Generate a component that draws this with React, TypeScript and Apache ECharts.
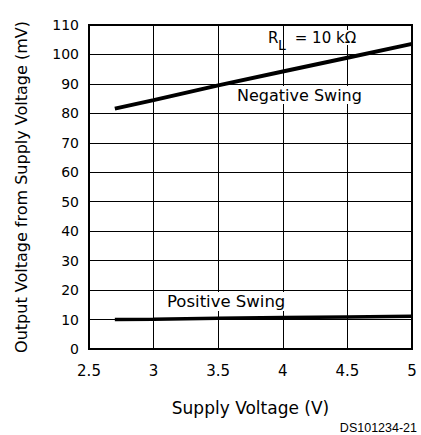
import React, { useEffect, useRef } from "react";
import * as echarts from "echarts";

const supplyVoltage = [2.7, 3.0, 3.5, 4.0, 4.5, 5.0];
const negativeSwing = [81.6, 84.5, 89.5, 94.2, 98.9, 103.6];
const positiveSwing = [10.0, 10.1, 10.4, 10.7, 10.9, 11.1];
const xTicks = [2.5, 3, 3.5, 4, 4.5, 5];
const yTicks = [0, 10, 20, 30, 40, 50, 60, 70, 80, 90, 100, 110];

const FONT = "DejaVu Sans";

export default function App() {
  const ref = useRef<HTMLDivElement>(null);
  useEffect(() => {
    if (!ref.current) return;
    const chart = echarts.init(ref.current, undefined, { renderer: "svg" });
    chart.setOption({
      animation: false,
      backgroundColor: "#fff",
      grid: {
        left: 89,
        right: 9,
        top: 25,
        bottom: 86,
        show: true,
        borderColor: "#000",
        borderWidth: 2,
        z: 3,
      },
      xAxis: {
        type: "value",
        min: xTicks[0],
        max: xTicks[xTicks.length - 1],
        interval: 0.5,
        name: "Supply Voltage (V)",
        nameLocation: "middle",
        nameGap: 50,
        nameTextStyle: { fontFamily: FONT, fontSize: 17, color: "#000" },
        axisLine: { show: true, lineStyle: { color: "#000", width: 2 } },
        axisTick: { show: false },
        axisLabel: { fontFamily: FONT, fontSize: 15, color: "#000", margin: 14 },
        splitLine: { show: true, lineStyle: { color: "#000", width: 1 } },
      },
      yAxis: {
        type: "value",
        min: yTicks[0],
        max: yTicks[yTicks.length - 1],
        interval: 10,
        name: "Output Voltage from Supply Voltage (mV)",
        nameLocation: "middle",
        nameGap: 60,
        nameTextStyle: { fontFamily: FONT, fontSize: 16, color: "#000" },
        axisLine: { show: true, lineStyle: { color: "#000", width: 2 } },
        axisTick: { show: false },
        axisLabel: { fontFamily: FONT, fontSize: 14, color: "#000", margin: 10 },
        splitLine: { show: true, lineStyle: { color: "#000", width: 1 } },
      },
      series: [
        {
          type: "line",
          name: "Negative Swing",
          data: supplyVoltage.map((v, i) => [v, negativeSwing[i]]),
          showSymbol: false,
          symbol: "none",
          lineStyle: { color: "#000", width: 4 },
          z: 5,
        },
        {
          type: "line",
          name: "Positive Swing",
          data: supplyVoltage.map((v, i) => [v, positiveSwing[i]]),
          showSymbol: false,
          symbol: "none",
          lineStyle: { color: "#000", width: 3.5 },
          z: 5,
        },
      ],
      graphic: [
        {
          type: "text",
          x: 268,
          y: 30,
          z: 10,
          style: {
            text: "R",
            fontFamily: FONT,
            fontSize: 15,
            fill: "#000",
            backgroundColor: "#fff",
          },
        },
        {
          type: "text",
          x: 278,
          y: 38,
          z: 11,
          style: {
            text: "L",
            fontFamily: FONT,
            fontSize: 14,
            fill: "#000",
          },
        },
        {
          type: "text",
          x: 290,
          y: 30,
          z: 10,
          style: {
            text: " = 10 kΩ",
            fontFamily: FONT,
            fontSize: 15,
            fill: "#000",
            backgroundColor: "#fff",
          },
        },
        {
          type: "text",
          x: 236,
          y: 86,
          z: 10,
          style: {
            text: "Negative Swing",
            fontFamily: FONT,
            fontSize: 16,
            fill: "#000",
            backgroundColor: "#fff",
            padding: [1, 1, 1, 1],
          },
        },
        {
          type: "text",
          x: 166,
          y: 292,
          z: 10,
          style: {
            text: "Positive Swing",
            fontFamily: FONT,
            fontSize: 16.5,
            fill: "#000",
            backgroundColor: "#fff",
            padding: [1, 1, 1, 1],
          },
        },
        {
          type: "text",
          right: 4,
          y: 421,
          z: 10,
          style: {
            text: "DS101234-21",
            fontFamily: "Liberation Sans",
            fontSize: 12.5,
            fill: "#000",
          },
        },
      ],
    });
    return () => chart.dispose();
  }, []);
  return <div ref={ref} style={{ width: 421, height: 435, position: "absolute", left: 0, top: 0 }} />;
}
